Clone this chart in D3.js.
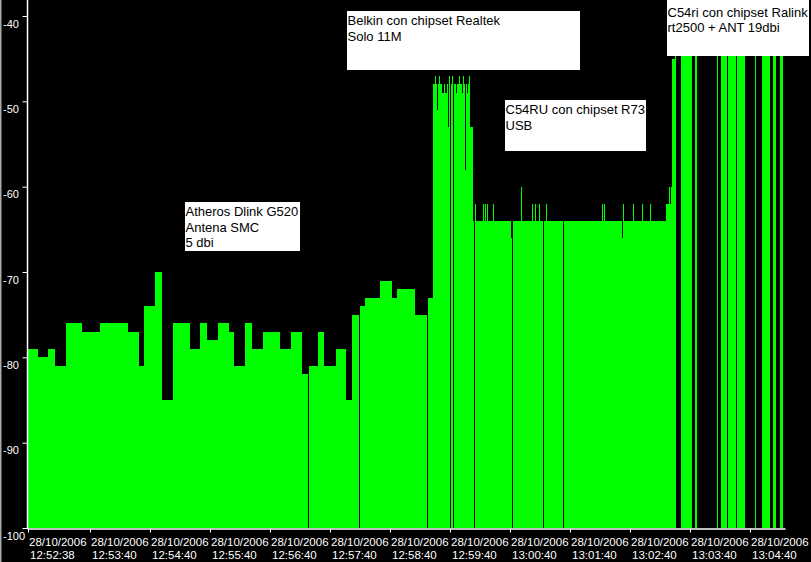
<!DOCTYPE html>
<html><head><meta charset="utf-8">
<script src="https://cdn.jsdelivr.net/npm/d3@7"></script>
<style>html,body{margin:0;padding:0;background:#000;overflow:hidden}svg{display:block}</style>
</head><body>
<svg id="chart" width="811" height="562"></svg>
<script>
// ---------- data ----------
const startTime = "2006-10-28T12:52:37";
// seconds after startTime at which the signal value changes
const changeSec = [
  0,11,21,28,39,55,73,101,112,117,128,135,146,163,173,180,191,202,207,218,225,236,253,264,275,281,282,291,297,309,319,325,332,333,338,353,365,370,388,400,401,
  406,408,409,410,411,412,413,415,417,418,420,421,422,423,424,425,426,427,429,430,432,433,435,436,437,438,439,440,441,442,443,
  446,447,448,449,456,457,458,459,460,461,466,467,484,485,486,494,495,505,506,508,509,512,513,516,517,519,520,536,537,575,576,577,578,595,596,597,606,607,615,616,623,624,639,642,643,644,
  645,648,649,654,665,668,670,690,691,694,700,701,709,710,718,728,729,735,743,746,749,753,756
];
// signal level (dBm) from each change point
const signalDbm = [
  -79,-80,-79,-81,-76,-77,-76,-77,-81,-74,-70,-85,-76,-79,-76,-78,-76,-77,-81,-76,-79,-77,-79,-77,-82,-100,-81,-77,-81,-79,-85,-75,-100,-74,-73,-71,-73,-72,-75,-100,-73,
  -48,-47,-48,-51,-48,-47,-48,-49,-48,-49,-48,-53,-47,-100,-48,-47,-100,-48,-49,-48,-47,-48,-49,-47,-48,-58,-48,-49,-48,-47,-53,
  -64,-100,-62,-64,-62,-64,-62,-64,-62,-64,-62,-64,-66,-100,-64,-60,-64,-62,-64,-62,-64,-62,-64,-100,-64,-62,-64,-100,-64,-62,-64,-62,-64,-66,-62,-64,-62,-64,-62,-64,-62,-64,-62,-60,-62,-60,
  -45,-40,-100,-40,-100,-40,-100,-40,-100,-40,-100,-40,-100,-40,-100,-40,-100,-40,-100,-40,-100,-40,-100
];
const endSec = 758;
const yTicks = [-40,-50,-60,-70,-80,-90,-100];
const xTickDate = "28/10/2006";
const xTickTimes = ["12:52:38","12:53:40","12:54:40","12:55:40","12:56:40","12:57:40","12:58:40","12:59:40","13:00:40","13:01:40","13:02:40","13:03:40","13:04:40"];
const annotationLines = [
  ["Atheros Dlink G520","Antena SMC","5 dbi"],
  ["Belkin con chipset Realtek","Solo 11M"],
  ["C54RU con chipset R73","USB"],
  ["C54ri con chipset Ralink","rt2500 + ANT 19dbi"]
];

// ---------- layout ----------
const svg = d3.select("#chart");
const plotLeft = 27, plotRight = 785, plotTop = 0, plotBottom = 528;
const t0 = new Date(startTime);
const toDate = s => new Date(t0.getTime() + s * 1000);
const x = d3.scaleTime().domain([t0, toDate(endSec)]).range([plotLeft, plotRight]);
const y = d3.scaleLinear().domain([-100, -40]).range([plotBottom, 16]);

svg.append("rect").attr("width", 811).attr("height", 562).attr("fill", "#000");
svg.append("rect").attr("x", 0).attr("y", 0).attr("width", 1.5).attr("height", 562).attr("fill", "#a8aca8");

const pts = changeSec.map((s, i) => ({t: toDate(s), v: signalDbm[i]}));
pts.push({t: toDate(endSec), v: signalDbm[signalDbm.length - 1]});

svg.append("clipPath").attr("id", "plotclip").append("rect")
  .attr("x", plotLeft).attr("y", plotTop).attr("width", plotRight - plotLeft).attr("height", plotBottom - plotTop);

const area = d3.area().curve(d3.curveStepAfter)
  .x(d => x(d.t)).y0(y(-100)).y1(d => y(d.v));
svg.append("path").datum(pts).attr("d", area)
  .attr("fill", "#00ff00").attr("shape-rendering", "crispEdges")
  .attr("clip-path", "url(#plotclip)");

// y axis
const yAxis = svg.append("g").attr("transform", `translate(${plotLeft + 0.5},0)`)
  .call(d3.axisLeft(y).tickValues(yTicks).tickSize(5).tickSizeOuter(0).tickFormat(d => String(d)));
yAxis.select(".domain").remove();
yAxis.selectAll(".tick line").attr("stroke", "#fff");
yAxis.selectAll(".tick text").attr("fill", "#fff").attr("text-anchor", "start")
  .attr("x", -24.5).attr("y", 11).attr("dy", 0)
  .style("font-family", "'Liberation Sans', Arial, sans-serif").style("font-size", "11px");
svg.append("line").attr("x1", plotLeft + 0.5).attr("x2", plotLeft + 0.5).attr("y1", 0).attr("y2", plotBottom + 1)
  .attr("stroke", "#fff").attr("stroke-width", 1.5);

// x axis
const tickDates = xTickTimes.map(s => new Date("2006-10-28T" + s));
const xAxis = svg.append("g").attr("transform", `translate(0,${plotBottom + 0.5})`)
  .call(d3.axisBottom(x).tickValues(tickDates).tickSize(4).tickSizeOuter(0).tickFormat(() => ""));
xAxis.select(".domain").attr("stroke", "#fff").attr("stroke-width", 1.5);
xAxis.selectAll(".tick line").attr("stroke", "#fff");
xAxis.selectAll(".tick").each(function(d, i) {
  const t = d3.select(this).select("text").text(null)
    .attr("fill", "#fff").attr("text-anchor", "start").attr("y", 0).attr("dy", 0)
    .style("font-family", "'Liberation Sans', Arial, sans-serif").style("font-size", "11.5px");
  t.append("tspan").attr("x", 0.5).attr("y", 17.5).text(xTickDate);
  t.append("tspan").attr("x", 1.5).attr("y", 30.5).text(xTickTimes[i]);
});

// annotation boxes
const boxLayout = [
  {x: 185, y: 202, w: 115, h: 49, ty: 216},
  {x: 347, y: 11, w: 233, h: 59, ty: 25},
  {x: 505, y: 100, w: 141, h: 51, ty: 114},
  {x: 667, y: 0, w: 142, h: 56, ty: 16.5}
];
annotationLines.forEach((lines, i) => {
  const b = boxLayout[i];
  const g = svg.append("g");
  g.append("rect").attr("x", b.x).attr("y", b.y).attr("width", b.w).attr("height", b.h).attr("fill", "#fff");
  lines.forEach((ln, j) => {
    g.append("text").attr("x", b.x + 0.5).attr("y", b.ty + j * 15.5)
      .attr("fill", "#000")
      .style("font-family", "'Liberation Sans', Arial, sans-serif").style("font-size", "13px")
      .text(ln);
  });
});
</script>
</body></html>
